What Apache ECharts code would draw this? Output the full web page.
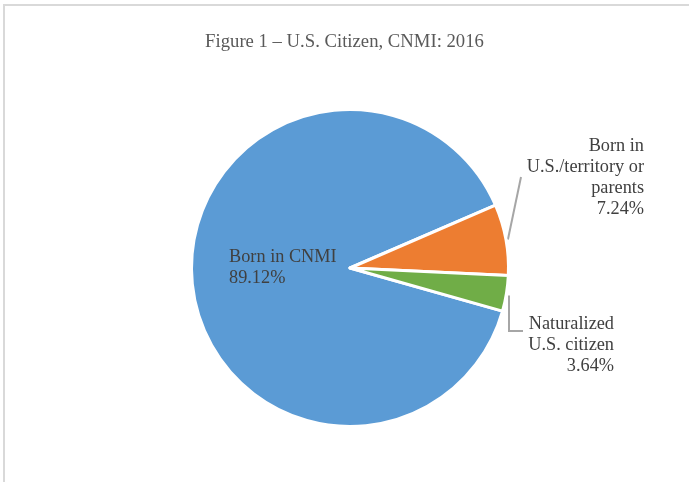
<!DOCTYPE html>
<html>
<head>
<meta charset="utf-8">
<script src="https://cdn.jsdelivr.net/npm/echarts@6/dist/echarts.min.js"></script>
<style>html,body{margin:0;padding:0;background:#fff;}#c{width:689px;height:482px;}</style>
</head>
<body>
<div id="c"></div>
<script>
var titleText = 'Figure 1 \u2013 U.S. Citizen, CNMI: 2016';
var categories = ['Born in CNMI', 'Born in\nU.S./territory or\nparents', 'Naturalized\nU.S. citizen'];
var values = [89.12, 7.24, 3.64];
var colors = ['#5b9bd5', '#ed7d31', '#70ad47'];

var chart = echarts.init(document.getElementById('c'), null, {renderer: 'canvas'});
var data = categories.map(function (c, i) {
  return {name: c, value: values[i], itemStyle: {color: colors[i]}};
});
chart.setOption({
  animation: false,
  backgroundColor: '#fff',
  title: {
    text: titleText, left: 'center', top: 28,
    textStyle: {fontFamily: 'Liberation Serif', fontSize: 18.7, fontWeight: 'normal', color: '#595959'}
  },
  graphic: [{
    type: 'rect', shape: {x: 4, y: 5, width: 1000, height: 1000},
    style: {fill: 'none', stroke: '#d9d9d9', lineWidth: 2}, silent: true
  }],
  series: [{
    type: 'pie',
    center: [350, 268],
    radius: 158.5,
    startAngle: -15.8,
    clockwise: true,
    data: data,
    itemStyle: {borderColor: '#fff', borderWidth: 3},
    label: {
      show: true, position: 'outside',
      formatter: '{b}\n{d}%',
      fontFamily: 'Liberation Serif', fontSize: 18.3, lineHeight: 21, color: '#404040'
    },
    percentPrecision: 2,
    labelLine: {show: true, lineStyle: {color: '#a6a6a6', width: 2}},
    labelLayout: function (p) {
      var s = p.labelLinePoints ? p.labelLinePoints[0] : null;
      if (p.dataIndex === 0) {
        return {x: 229, y: 247, align: 'left', verticalAlign: 'top', labelLinePoints: null};
      } else if (p.dataIndex === 1) {
        return {x: 644, y: 136, align: 'right', verticalAlign: 'top',
          labelLinePoints: [[s[0] + 2, s[1]], [521, 177]]};
      } else {
        return {x: 614, y: 314, align: 'right', verticalAlign: 'top',
          labelLinePoints: [[509, s[1] + 2], [509, 331], [523, 331]]};
      }
    },
    emphasis: {disabled: true}
  }]
});
</script>
</body>
</html>
